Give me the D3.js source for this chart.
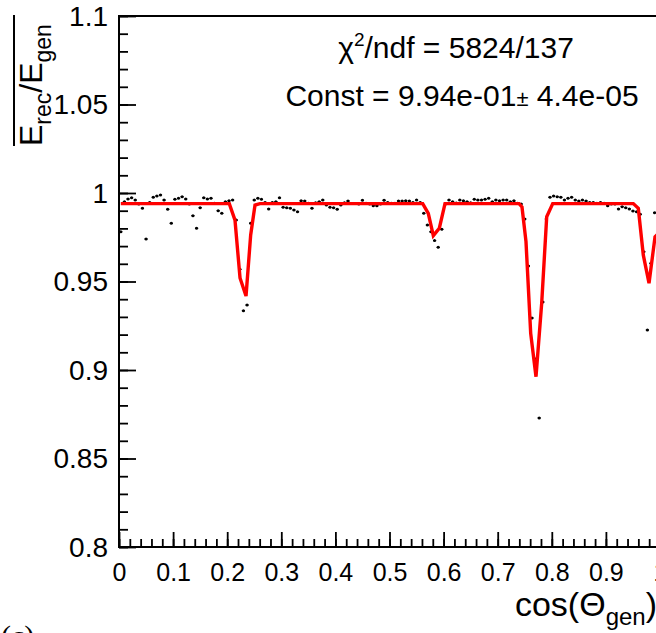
<!DOCTYPE html>
<html>
<head>
<meta charset="utf-8">
<script src="https://cdn.jsdelivr.net/npm/d3@7"></script>
<style>
  body { margin: 0; background: #fff; }
  text { font-family: "Liberation Sans", Arial, Helvetica, sans-serif; }
</style>
</head>
<body>
<script>
/* E_rec/E_gen vs cos(theta_gen), 150 bins, constant fit */
var width = 656;
var height = 633;

// histogram bin contents, bins of 1/150 in cos(theta)
var ratio = [
  0.9781, 0.9951, 0.9966, 0.9973, 0.9960, 0.9938, 0.9914, 0.9740, 0.9947, 0.9976,
  0.9983, 0.9989, 0.9960, 0.9908, 0.9829, 0.9964, 0.9970, 0.9979, 0.9966, 0.9938,
  0.9872, 0.9801, 0.9917, 0.9973, 0.9966, 0.9970, 0.9942, 0.9900, 0.9885, 0.9951,
  0.9956, 0.9960, 0.9847, 0.9569, 0.9335, 0.9367, 0.9829, 0.9960, 0.9970, 0.9964,
  0.9947, 0.9910, 0.9947, 0.9951, 0.9973, 0.9919, 0.9917, 0.9914, 0.9904, 0.9894,
  0.9956, 0.9955, 0.9942, 0.9914, 0.9945, 0.9951, 0.9960, 0.9932, 0.9919, 0.9917,
  0.9908, 0.9932, 0.9945, 0.9955, 0.9940, 0.9940, 0.9938, 0.9959, 0.9942, 0.9938,
  0.9928, 0.9928, 0.9938, 0.9959, 0.9947, 0.9942, 0.9942, 0.9955, 0.9955, 0.9956,
  0.9955, 0.9947, 0.9960, 0.9947, 0.9885, 0.9819, 0.9781, 0.9731, 0.9693, 0.9795,
  0.9938, 0.9960, 0.9951, 0.9944, 0.9960, 0.9956, 0.9951, 0.9945, 0.9964, 0.9960,
  0.9960, 0.9964, 0.9970, 0.9951, 0.9960, 0.9956, 0.9960, 0.9960, 0.9951, 0.9956,
  0.9942, 0.9938, 0.9853, 0.9588, 0.9294, 0.9062, 0.8729, 0.9384, 0.9853, 0.9976,
  0.9983, 0.9979, 0.9976, 0.9960, 0.9970, 0.9976, 0.9960, 0.9955, 0.9960, 0.9955,
  0.9947, 0.9947, 0.9942, 0.9947, 0.9942, 0.9928, 0.9938, 0.9938, 0.9910, 0.9923,
  0.9917, 0.9910, 0.9898, 0.9894, 0.9880, 0.9668, 0.9226, 0.9603, 0.9889, 0.9900
];

// fitted curve (red)
var fitX = [0.0033, 0.2039, 0.2144, 0.2237, 0.2348, 0.2434, 0.2514, 0.2606,
            0.5614, 0.5717, 0.5810, 0.5921, 0.6026,
            0.7394, 0.7449, 0.7523, 0.7610, 0.7708, 0.7813, 0.7906, 0.8017,
            0.9507, 0.9599, 0.9691, 0.9797, 0.9908, 0.9967];
var fitY = [0.994, 0.994, 0.9847, 0.9520, 0.9418, 0.9763, 0.9932, 0.994,
            0.994, 0.9885, 0.9759, 0.9801, 0.994,
            0.994, 0.9921, 0.9725, 0.9207, 0.8962, 0.9377, 0.9866, 0.994,
            0.994, 0.9914, 0.9650, 0.9490, 0.9753, 0.9770];

var xTicks = [0, 0.1, 0.2, 0.3, 0.4, 0.5, 0.6, 0.7, 0.8, 0.9, 1];
var xTickLabels = ["0", "0.1", "0.2", "0.3", "0.4", "0.5", "0.6", "0.7", "0.8", "0.9", "1"];
var yTicks = [0.8, 0.85, 0.9, 0.95, 1, 1.05, 1.1];
var yTickLabels = ["0.8", "0.85", "0.9", "0.95", "1", "1.05", "1.1"];

var nBins = ratio.length;

var svg = d3.select('body').append('svg').attr('width', width).attr('height', height);

var x = d3.scaleLinear().domain([0, 1]).range([119, 660]);
var y = d3.scaleLinear().domain([0.8, 1.1]).range([547, 16]);

// minor ticks
var xMinor = d3.range(0, 51).map(function(k){ return k / 50; });
var yMinor = d3.range(0, 31).map(function(k){ return 0.8 + k / 100; });

svg.append("g")
    .attr("transform", "translate(0,547)")
    .call(d3.axisBottom(x).tickValues(xMinor).tickSize(-8).tickSizeOuter(0).tickFormat(""))
    .call(function(g){ g.select(".domain").remove(); });

svg.append("g")
    .attr("transform", "translate(119,0)")
    .call(d3.axisLeft(y).tickValues(yMinor).tickSize(-9).tickSizeOuter(0).tickFormat(""))
    .call(function(g){ g.select(".domain").remove(); });

// major ticks + labels
var xAxis = svg.append("g")
    .attr("transform", "translate(0,547)")
    .call(d3.axisBottom(x).tickValues(xTicks).tickSize(-15).tickSizeOuter(0).tickPadding(16)
          .tickFormat(function(d, i){ return xTickLabels[i]; }));
xAxis.select(".domain").remove();

var yAxis = svg.append("g")
    .attr("transform", "translate(119,0)")
    .call(d3.axisLeft(y).tickValues(yTicks).tickSize(-17).tickSizeOuter(0).tickPadding(11)
          .tickFormat(function(d, i){ return yTickLabels[i]; }));
yAxis.select(".domain").remove();

svg.selectAll(".tick line").attr("stroke", "#000").attr("stroke-width", 1.8);
svg.selectAll(".tick text")
    .attr("fill", "#000")
    .style("font-family", "'Liberation Sans', Arial, Helvetica, sans-serif");
xAxis.selectAll(".tick text").style("font-size", "25px");
yAxis.selectAll(".tick text").style("font-size", "28px").attr("dy", "0.33em");

// frame
svg.append("rect")
    .attr("x", x(0)).attr("y", y(1.1))
    .attr("width", x(1) - x(0)).attr("height", y(0.8) - y(1.1))
    .attr("fill", "none").attr("stroke", "#000").attr("stroke-width", 2);

// data points with x error bars
var pts = svg.append("g").attr("class", "points");
ratio.forEach(function(v, i){
  var lo = i / nBins, hi = (i + 1) / nBins, c = (i + 0.5) / nBins;
  pts.append("line")
      .attr("x1", x(lo) + 0.2).attr("x2", x(hi) - 0.2)
      .attr("y1", y(v)).attr("y2", y(v))
      .attr("stroke", "#000").attr("stroke-width", 1.2);
  pts.append("circle")
      .attr("cx", x(c)).attr("cy", y(v)).attr("r", 1.5)
      .attr("fill", "#000");
});

// fit
var fitData = fitX.map(function(d, i){ return [d, fitY[i]]; });
svg.append("path")
    .datum(fitData)
    .attr("fill", "none")
    .attr("stroke", "#ff0000")
    .attr("stroke-width", 3.4)
    .attr("stroke-linejoin", "miter")
    .attr("d", d3.line().x(function(d){ return x(d[0]); }).y(function(d){ return y(d[1]); }));

// stats text
var s1 = svg.append("text").attr("x", 456).attr("y", 58)
    .attr("text-anchor", "middle").style("font-size", "30px");
s1.append("tspan").text("\u03c7");
s1.append("tspan").attr("dy", -12).style("font-size", "19px").text("2");
s1.append("tspan").attr("dy", 12).text("/ndf = 5824/137");

var s2 = svg.append("text").attr("x", 462).attr("y", 106)
    .attr("text-anchor", "middle").style("font-size", "30px");
s2.append("tspan").text("Const = 9.94e-01");
s2.append("tspan").style("font-size", "22px").text("\u00b1");
s2.append("tspan").text(" 4.4e-05");

// y title
var yt = svg.append("text")
    .attr("transform", "translate(42,146) rotate(-90)")
    .style("font-size", "32px");
yt.append("tspan").text("E");
yt.append("tspan").attr("dy", 9).style("font-size", "23px").text("rec");
yt.append("tspan").attr("dy", -9).text("/E");
yt.append("tspan").attr("dy", 9).style("font-size", "23px").text("gen");
svg.append("line")
    .attr("x1", 14).attr("x2", 14).attr("y1", 15).attr("y2", 146)
    .attr("stroke", "#000").attr("stroke-width", 2);

// x title
var xt = svg.append("text").attr("x", 657).attr("y", 616)
    .attr("text-anchor", "end").style("font-size", "34px");
xt.append("tspan").text("cos(\u0398");
xt.append("tspan").attr("dy", 9).style("font-size", "24px").text("gen");
xt.append("tspan").attr("dy", -9).text(")");

// panel label
svg.append("text").attr("x", 1).attr("y", 646)
    .style("font-family", "'Liberation Serif', 'Times New Roman', serif")
    .style("font-size", "30px")
    .text("(c)");
</script>
</body>
</html>
